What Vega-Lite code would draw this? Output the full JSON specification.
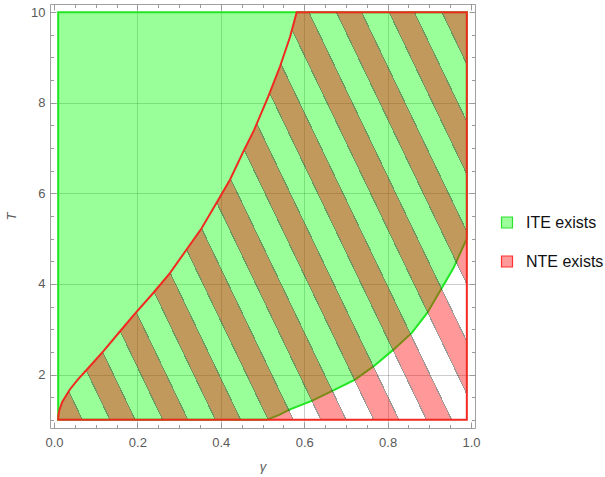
{
  "$schema": "https://vega.github.io/schema/vega-lite/v6.json",
  "width": 425,
  "height": 424,
  "autosize": "none",
  "padding": {"left": 50, "top": 4, "right": 130, "bottom": 49},
  "background": "white",
  "config": {
    "view": {"stroke": "#a0a0a0", "strokeWidth": 1},
    "axis": {
      "domain": false,
      "grid": false,
      "labelFont": "Liberation Sans",
      "labelFontSize": 13,
      "labelColor": "#5a5a5a",
      "tickColor": "#9a9a9a",
      "titleFont": "Liberation Sans",
      "titleFontSize": 13,
      "titleColor": "#5a5a5a",
      "titleFontStyle": "italic",
      "titleFontWeight": "normal",
      "labelFlush": false,
      "labelOverlap": false
    }
  },
  "datasets": {
    "green": [
      {"x": 0.01, "lo": 1},
      {"x": 0.51, "lo": 1},
      {"x": 0.54, "lo": 1.11},
      {"x": 0.566, "lo": 1.23},
      {"x": 0.618, "lo": 1.42},
      {"x": 0.67, "lo": 1.65},
      {"x": 0.722, "lo": 1.89},
      {"x": 0.766, "lo": 2.18},
      {"x": 0.814, "lo": 2.55},
      {"x": 0.858, "lo": 2.92},
      {"x": 0.895, "lo": 3.36},
      {"x": 0.93, "lo": 3.91},
      {"x": 0.958, "lo": 4.35},
      {"x": 0.978, "lo": 4.76},
      {"x": 0.99, "lo": 5.0}
    ],
    "red": [
      {"x": 0.01, "hi": 1},
      {"x": 0.0105, "hi": 1.1},
      {"x": 0.013, "hi": 1.22},
      {"x": 0.02, "hi": 1.4},
      {"x": 0.038, "hi": 1.67},
      {"x": 0.058, "hi": 1.9},
      {"x": 0.078, "hi": 2.1},
      {"x": 0.118, "hi": 2.51},
      {"x": 0.158, "hi": 2.95},
      {"x": 0.19, "hi": 3.3},
      {"x": 0.238, "hi": 3.8},
      {"x": 0.278, "hi": 4.24},
      {"x": 0.318, "hi": 4.76},
      {"x": 0.354, "hi": 5.23},
      {"x": 0.39, "hi": 5.79},
      {"x": 0.422, "hi": 6.3},
      {"x": 0.454, "hi": 6.92},
      {"x": 0.48, "hi": 7.4},
      {"x": 0.514, "hi": 8.14},
      {"x": 0.542, "hi": 8.8},
      {"x": 0.566, "hi": 9.45},
      {"x": 0.582, "hi": 10},
      {"x": 0.99, "hi": 10}
    ],
    "legend": [{"r": "ITE exists"}, {"r": "NTE exists"}]
  },
  "layer": [
    {
      "data": {"name": "green"},
      "mark": {"type": "area", "fill": "#00ff00", "fillOpacity": 0.4, "stroke": "#22e622", "strokeWidth": 2},
      "encoding": {
        "x": {"field": "x", "type": "quantitative", "scale": {"domain": [-0.0096, 1.0096], "nice": false, "zero": false},
          "axis": {"orient": "bottom", "values": [0, 0.2, 0.4, 0.6, 0.8, 1], "format": ".1f", "ticks": false, "labelPadding": 8, "title": "γ", "titleY": 42, "titleBaseline": "alphabetic"}},
        "y": {"field": "lo", "type": "quantitative", "scale": {"domain": [0.82, 10.18], "nice": false, "zero": false},
          "axis": {"orient": "left", "values": [2, 4, 6, 8, 10], "ticks": false, "labelPadding": 5, "title": "T", "titleAngle": 270, "titleX": -35, "titleY": 212, "titleBaseline": "alphabetic", "titleAlign": "center"}},
        "y2": {"datum": 10}
      }
    },
    {
      "data": {"name": "red"},
      "mark": {
        "type": "area",
        "stroke": "#f02a20",
        "strokeWidth": 2,
        "fill": {
          "gradient": "linear",
          "x1": 0, "y1": 1, "x2": 1.2029, "y2": 0.4242,
          "stops": [
            {"offset": 0, "color": "rgba(255,0,0,0.4)"}, {"offset": 0.03913, "color": "rgba(255,0,0,0.4)"}, {"offset": 0.03913, "color": "rgba(60,45,40,0.5)"}, {"offset": 0.04113, "color": "rgba(60,45,40,0.5)"}, {"offset": 0.04113, "color": "rgba(255,0,0,0)"},
            {"offset": 0.08477, "color": "rgba(255,0,0,0)"}, {"offset": 0.08477, "color": "rgba(60,45,40,0.5)"}, {"offset": 0.08677, "color": "rgba(60,45,40,0.5)"}, {"offset": 0.08677, "color": "rgba(255,0,0,0.4)"}, {"offset": 0.12643, "color": "rgba(255,0,0,0.4)"}, {"offset": 0.12643, "color": "rgba(60,45,40,0.5)"}, {"offset": 0.12843, "color": "rgba(60,45,40,0.5)"}, {"offset": 0.12843, "color": "rgba(255,0,0,0)"},
            {"offset": 0.17207, "color": "rgba(255,0,0,0)"}, {"offset": 0.17207, "color": "rgba(60,45,40,0.5)"}, {"offset": 0.17407, "color": "rgba(60,45,40,0.5)"}, {"offset": 0.17407, "color": "rgba(255,0,0,0.4)"}, {"offset": 0.21373, "color": "rgba(255,0,0,0.4)"}, {"offset": 0.21373, "color": "rgba(60,45,40,0.5)"}, {"offset": 0.21573, "color": "rgba(60,45,40,0.5)"}, {"offset": 0.21573, "color": "rgba(255,0,0,0)"},
            {"offset": 0.25937, "color": "rgba(255,0,0,0)"}, {"offset": 0.25937, "color": "rgba(60,45,40,0.5)"}, {"offset": 0.26137, "color": "rgba(60,45,40,0.5)"}, {"offset": 0.26137, "color": "rgba(255,0,0,0.4)"}, {"offset": 0.30103, "color": "rgba(255,0,0,0.4)"}, {"offset": 0.30103, "color": "rgba(60,45,40,0.5)"}, {"offset": 0.30303, "color": "rgba(60,45,40,0.5)"}, {"offset": 0.30303, "color": "rgba(255,0,0,0)"},
            {"offset": 0.34667, "color": "rgba(255,0,0,0)"}, {"offset": 0.34667, "color": "rgba(60,45,40,0.5)"}, {"offset": 0.34867, "color": "rgba(60,45,40,0.5)"}, {"offset": 0.34867, "color": "rgba(255,0,0,0.4)"}, {"offset": 0.38833, "color": "rgba(255,0,0,0.4)"}, {"offset": 0.38833, "color": "rgba(60,45,40,0.5)"}, {"offset": 0.39033, "color": "rgba(60,45,40,0.5)"}, {"offset": 0.39033, "color": "rgba(255,0,0,0)"},
            {"offset": 0.43397, "color": "rgba(255,0,0,0)"}, {"offset": 0.43397, "color": "rgba(60,45,40,0.5)"}, {"offset": 0.43597, "color": "rgba(60,45,40,0.5)"}, {"offset": 0.43597, "color": "rgba(255,0,0,0.4)"}, {"offset": 0.47563, "color": "rgba(255,0,0,0.4)"}, {"offset": 0.47563, "color": "rgba(60,45,40,0.5)"}, {"offset": 0.47763, "color": "rgba(60,45,40,0.5)"}, {"offset": 0.47763, "color": "rgba(255,0,0,0)"},
            {"offset": 0.52127, "color": "rgba(255,0,0,0)"}, {"offset": 0.52127, "color": "rgba(60,45,40,0.5)"}, {"offset": 0.52327, "color": "rgba(60,45,40,0.5)"}, {"offset": 0.52327, "color": "rgba(255,0,0,0.4)"}, {"offset": 0.56293, "color": "rgba(255,0,0,0.4)"}, {"offset": 0.56293, "color": "rgba(60,45,40,0.5)"}, {"offset": 0.56493, "color": "rgba(60,45,40,0.5)"}, {"offset": 0.56493, "color": "rgba(255,0,0,0)"},
            {"offset": 0.60857, "color": "rgba(255,0,0,0)"}, {"offset": 0.60857, "color": "rgba(60,45,40,0.5)"}, {"offset": 0.61057, "color": "rgba(60,45,40,0.5)"}, {"offset": 0.61057, "color": "rgba(255,0,0,0.4)"}, {"offset": 0.65023, "color": "rgba(255,0,0,0.4)"}, {"offset": 0.65023, "color": "rgba(60,45,40,0.5)"}, {"offset": 0.65223, "color": "rgba(60,45,40,0.5)"}, {"offset": 0.65223, "color": "rgba(255,0,0,0)"},
            {"offset": 0.69587, "color": "rgba(255,0,0,0)"}, {"offset": 0.69587, "color": "rgba(60,45,40,0.5)"}, {"offset": 0.69787, "color": "rgba(60,45,40,0.5)"}, {"offset": 0.69787, "color": "rgba(255,0,0,0.4)"}, {"offset": 0.73753, "color": "rgba(255,0,0,0.4)"}, {"offset": 0.73753, "color": "rgba(60,45,40,0.5)"}, {"offset": 0.73953, "color": "rgba(60,45,40,0.5)"}, {"offset": 0.73953, "color": "rgba(255,0,0,0)"},
            {"offset": 0.78317, "color": "rgba(255,0,0,0)"}, {"offset": 0.78317, "color": "rgba(60,45,40,0.5)"}, {"offset": 0.78517, "color": "rgba(60,45,40,0.5)"}, {"offset": 0.78517, "color": "rgba(255,0,0,0.4)"}, {"offset": 0.82483, "color": "rgba(255,0,0,0.4)"}, {"offset": 0.82483, "color": "rgba(60,45,40,0.5)"}, {"offset": 0.82683, "color": "rgba(60,45,40,0.5)"}, {"offset": 0.82683, "color": "rgba(255,0,0,0)"},
            {"offset": 0.87047, "color": "rgba(255,0,0,0)"}, {"offset": 0.87047, "color": "rgba(60,45,40,0.5)"}, {"offset": 0.87247, "color": "rgba(60,45,40,0.5)"}, {"offset": 0.87247, "color": "rgba(255,0,0,0.4)"}, {"offset": 0.91213, "color": "rgba(255,0,0,0.4)"}, {"offset": 0.91213, "color": "rgba(60,45,40,0.5)"}, {"offset": 0.91413, "color": "rgba(60,45,40,0.5)"}, {"offset": 0.91413, "color": "rgba(255,0,0,0)"},
            {"offset": 0.95777, "color": "rgba(255,0,0,0)"}, {"offset": 0.95777, "color": "rgba(60,45,40,0.5)"}, {"offset": 0.95977, "color": "rgba(60,45,40,0.5)"}, {"offset": 0.95977, "color": "rgba(255,0,0,0.4)"}, {"offset": 1, "color": "rgba(255,0,0,0.4)"}
          ]
        }
      },
      "encoding": {
        "x": {"field": "x", "type": "quantitative", "scale": {"domain": [-0.0096, 1.0096], "nice": false, "zero": false},
          "axis": {"orient": "bottom", "values": [0, 0.2, 0.4, 0.6, 0.8, 1], "labels": false, "tickSize": 6, "offset": -6, "title": null}},
        "y": {"field": "hi", "type": "quantitative", "scale": {"domain": [0.82, 10.18], "nice": false, "zero": false},
          "axis": {"orient": "left", "values": [2, 4, 6, 8, 10], "labels": false, "tickSize": 6, "offset": -6, "title": null}},
        "y2": {"datum": 1}
      }
    },
    {
      "data": {"name": "green"},
      "mark": {"type": "point", "opacity": 0},
      "encoding": {
        "x": {"field": "x", "type": "quantitative", "scale": {"domain": [-0.0096, 1.0096], "nice": false, "zero": false},
          "axis": {"orient": "bottom", "values": [0, 0.05, 0.1, 0.15, 0.2, 0.25, 0.3, 0.35, 0.4, 0.45, 0.5, 0.55, 0.6, 0.65, 0.7, 0.75, 0.8, 0.85, 0.9, 0.95, 1], "labels": false, "tickSize": 3.5, "offset": -3.5, "title": null}},
        "y": {"field": "lo", "type": "quantitative", "scale": {"domain": [0.82, 10.18], "nice": false, "zero": false},
          "axis": {"orient": "left", "values": [1, 1.5, 2, 2.5, 3, 3.5, 4, 4.5, 5, 5.5, 6, 6.5, 7, 7.5, 8, 8.5, 9, 9.5, 10], "labels": false, "tickSize": 3.5, "offset": -3.5, "title": null}}
      }
    },
    {
      "data": {"name": "green"},
      "mark": {"type": "point", "opacity": 0},
      "encoding": {
        "x": {"field": "x", "type": "quantitative", "scale": {"domain": [-0.0096, 1.0096], "nice": false, "zero": false},
          "axis": {"orient": "top", "values": [0, 0.2, 0.4, 0.6, 0.8, 1], "labels": false, "tickSize": 6, "offset": -6, "title": null}},
        "y": {"field": "lo", "type": "quantitative", "scale": {"domain": [0.82, 10.18], "nice": false, "zero": false},
          "axis": {"orient": "right", "values": [2, 4, 6, 8, 10], "labels": false, "tickSize": 6, "offset": -6, "title": null}}
      }
    },
    {
      "data": {"name": "green"},
      "mark": {"type": "point", "opacity": 0},
      "encoding": {
        "x": {"field": "x", "type": "quantitative", "scale": {"domain": [-0.0096, 1.0096], "nice": false, "zero": false},
          "axis": {"orient": "top", "values": [0, 0.05, 0.1, 0.15, 0.2, 0.25, 0.3, 0.35, 0.4, 0.45, 0.5, 0.55, 0.6, 0.65, 0.7, 0.75, 0.8, 0.85, 0.9, 0.95, 1], "labels": false, "tickSize": 3.5, "offset": -3.5, "title": null}},
        "y": {"field": "lo", "type": "quantitative", "scale": {"domain": [0.82, 10.18], "nice": false, "zero": false},
          "axis": {"orient": "right", "values": [1, 1.5, 2, 2.5, 3, 3.5, 4, 4.5, 5, 5.5, 6, 6.5, 7, 7.5, 8, 8.5, 9, 9.5, 10], "labels": false, "tickSize": 3.5, "offset": -3.5, "title": null}}
      }
    },
    {
      "data": {"name": "green"},
      "mark": {"type": "point", "opacity": 0},
      "encoding": {
        "x": {"field": "x", "type": "quantitative", "scale": {"domain": [-0.0096, 1.0096], "nice": false, "zero": false},
          "axis": {"orient": "bottom", "values": [0.2, 0.4, 0.6, 0.8], "labels": false, "ticks": false, "grid": true, "gridColor": "#000000", "gridOpacity": 0.2, "title": null}},
        "y": {"field": "lo", "type": "quantitative", "scale": {"domain": [0.82, 10.18], "nice": false, "zero": false},
          "axis": {"orient": "left", "values": [2, 4, 6, 8], "labels": false, "ticks": false, "grid": true, "gridColor": "#000000", "gridOpacity": 0.2, "title": null}}
      }
    },
    {
      "data": {"name": "legend"},
      "mark": {"type": "point", "opacity": 0, "filled": true},
      "encoding": {
        "fill": {"field": "r", "type": "nominal", "scale": {"domain": ["ITE exists", "NTE exists"], "range": ["#9cff9c", "#ff9a9a"]},
          "legend": {"title": null, "orient": "none", "legendX": 449, "legendY": 210.5, "symbolType": "square", "symbolSize": 121, "symbolOpacity": 1, "symbolStrokeWidth": 1.2, "labelFont": "Liberation Sans", "labelFontSize": 16, "labelColor": "#111111", "labelOffset": 11, "rowPadding": 23, "padding": 0}},
        "stroke": {"field": "r", "type": "nominal", "scale": {"domain": ["ITE exists", "NTE exists"], "range": ["#2fe02f", "#ff3030"]},
          "legend": {"title": null, "orient": "none", "legendX": 449, "legendY": 210.5, "symbolType": "square", "symbolSize": 121, "symbolOpacity": 1, "symbolStrokeWidth": 1.2, "labelFont": "Liberation Sans", "labelFontSize": 16, "labelColor": "#111111", "labelOffset": 11, "rowPadding": 23, "padding": 0}}
      }
    }
  ],
  "resolve": {"axis": {"x": "independent", "y": "independent"}}
}
